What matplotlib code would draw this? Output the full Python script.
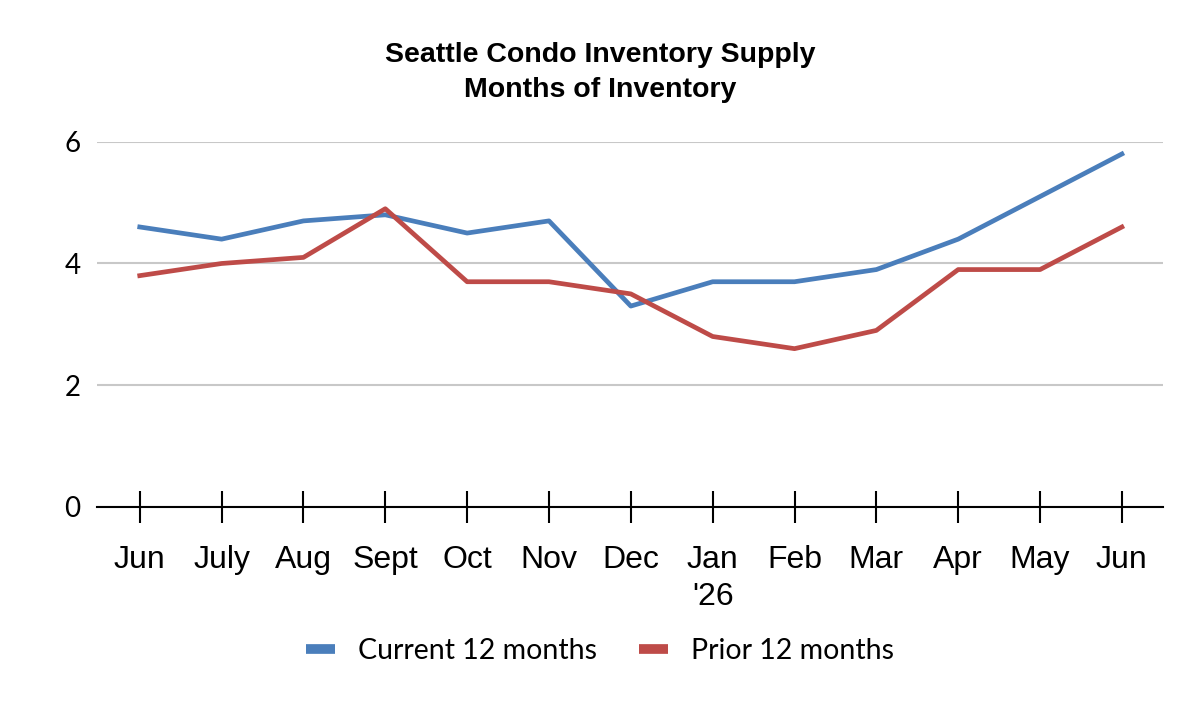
import matplotlib
matplotlib.use("Agg")
import matplotlib.pyplot as plt
import numpy as np

months = ["Jun", "July", "Aug", "Sept", "Oct", "Nov", "Dec", "Jan\n'26",
          "Feb", "Mar", "Apr", "May", "Jun"]
current = [4.6, 4.4, 4.7, 4.8, 4.5, 4.7, 3.3, 3.7, 3.7, 3.9, 4.4, 5.1, 5.8]
prior = [3.8, 4.0, 4.1, 4.9, 3.7, 3.7, 3.5, 2.8, 2.6, 2.9, 3.9, 3.9, 4.6]
yticks = [0, 2, 4, 6]

plt.rcParams['font.family'] = ['Liberation Sans', 'DejaVu Sans']

fig = plt.figure(figsize=(12, 7.02), dpi=100)
ax = fig.add_axes([0.081, 0.278, 0.888, 0.52])

x = np.arange(len(months))
ax.plot(x, current, color='#4A7EBB', lw=3.4, label='Current 12 months',
        solid_joinstyle='round', clip_on=False, zorder=3)
ax.plot(x, prior, color='#BE4B48', lw=3.4, label='Prior 12 months',
        solid_joinstyle='round', clip_on=False, zorder=3)

ax.set_xlim(-0.52, len(months) - 0.5)
ax.set_ylim(0, 6)
ax.set_yticks(yticks)
ax.set_yticklabels([str(v) for v in yticks], family='Lato')
ax.set_xticks(x)
ax.set_xticklabels(months, linespacing=1.3)
ax.yaxis.grid(True, color='#c8c8c8', lw=1.5)
ax.set_axisbelow(True)
for s in ['top', 'right', 'left']:
    ax.spines[s].set_visible(False)
ax.spines['bottom'].set_linewidth(1.5)
ax.tick_params(axis='y', length=0, labelsize=20, pad=12)
ax.tick_params(axis='x', direction='inout', length=23, width=1.5,
               labelsize=23, pad=16)

fig.text(0.5, 0.897, "Seattle Condo Inventory Supply\nMonths of Inventory",
         ha='center', va='center', fontsize=20.5, fontweight='bold',
         linespacing=1.42)

leg = fig.legend(loc='center', bbox_to_anchor=(0.5, 0.072), ncol=2,
                 frameon=False, prop={'family': 'Lato', 'size': 20.5},
                 handlelength=1.0, columnspacing=1.5, handletextpad=0.8)
for h in leg.legend_handles:
    h.set_linewidth(7)
    h.set_solid_capstyle('butt')

fig.savefig('out.png', dpi=100)
